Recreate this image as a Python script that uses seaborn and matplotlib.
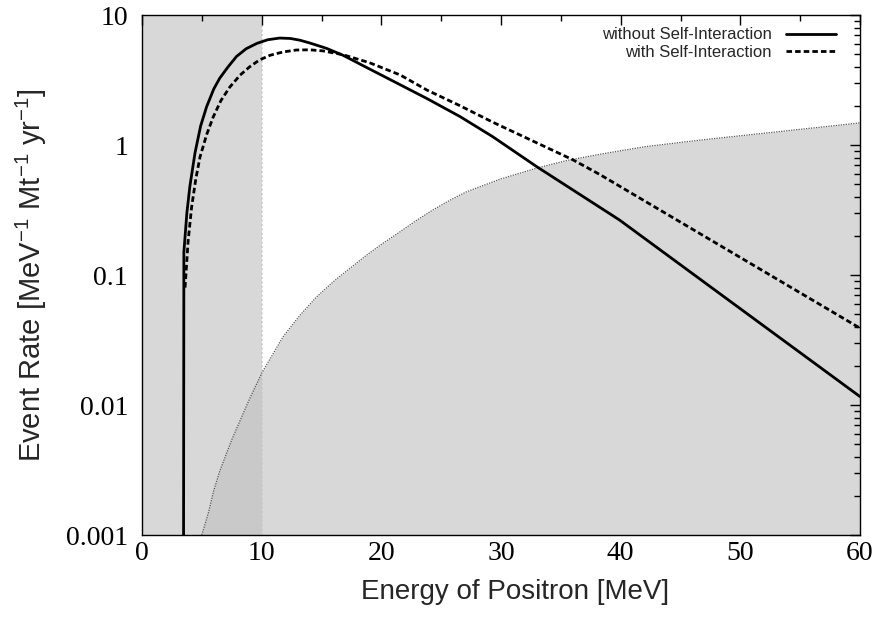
import numpy as np
import pandas as pd
import matplotlib
matplotlib.use("Agg")
import matplotlib.pyplot as plt
import seaborn as sns

# values
energy_without = [3.45, 3.5, 3.75, 4.0, 4.43, 4.9, 5.4, 6.0, 6.5, 7.2, 7.9, 8.7, 9.6,
                  10.5, 11.5, 12.4, 13.2, 14.0, 15.4, 16.8, 19.0, 21.6, 23.8,
                  26.6, 29.3, 33.0, 39.9, 50.0, 60.0]
rate_without = [1e-5, 0.15, 0.3, 0.48, 0.87, 1.4, 1.97, 2.7, 3.27, 4.0, 4.8, 5.5, 6.05,
                6.45, 6.65, 6.6, 6.4, 6.1, 5.55, 4.9, 3.85, 2.9, 2.28,
                1.65, 1.16, 0.68, 0.265, 0.055, 0.0116]

energy_with = [3.6, 3.85, 4.15, 4.5, 4.85, 5.4, 5.96, 6.6, 7.35, 8.2, 9.0, 9.8, 10.7,
               11.8, 12.9, 14.0, 15.1, 16.8, 19.0, 21.6, 23.8, 26.6, 29.3,
               36.0, 38.3, 49.4, 60.0]
rate_with = [0.08, 0.18, 0.335, 0.55, 0.81, 1.2, 1.65, 2.2, 2.8, 3.45, 4.0, 4.5, 4.9,
             5.2, 5.38, 5.4, 5.3, 4.95, 4.3, 3.45, 2.65, 2.0, 1.5,
             0.77, 0.59, 0.147, 0.039]

energy_bg = [5.0, 5.54, 6.0, 6.5, 7.5, 8.2, 9.0, 10.0, 10.4, 11.8, 13.2, 14.6, 16.0,
             17.4, 18.8, 20.2, 21.6, 22.9, 24.3, 25.7, 27.1, 29.9, 33.0, 35.5,
             38.3, 42.0, 46.6, 53.3, 60.0]
rate_bg = [0.001, 0.00147, 0.0022, 0.0031, 0.0054, 0.0076, 0.0112, 0.0175, 0.0203,
           0.0336, 0.049, 0.068, 0.089, 0.113, 0.143, 0.177, 0.216, 0.262, 0.316,
           0.375, 0.436, 0.545, 0.665, 0.76, 0.85, 0.97, 1.09, 1.27, 1.48]

band_edge = 10.0
ytick_vals = [0.001, 0.01, 0.1, 1, 10]
ytick_labels = ["0.001", "0.01", "0.1", "1", "10"]
xtick_vals = [0, 10, 20, 30, 40, 50, 60]

df = pd.concat([
    pd.DataFrame({"E": energy_without, "rate": rate_without, "case": "without Self-Interaction"}),
    pd.DataFrame({"E": energy_with, "rate": rate_with, "case": "with Self-Interaction"}),
])

sns.set_style("white")
plt.rcParams["font.family"] = ["Liberation Serif", "DejaVu Serif"]
plt.rcParams["mathtext.fontset"] = "custom"
plt.rcParams["mathtext.rm"] = "Liberation Sans"

fig = plt.figure(figsize=(8.83, 6.18), dpi=100)
ax = fig.add_axes([0.1608, 0.1343, 0.8132, 0.8414])

# shaded regions
shade = "#bfbfbf"
ax.axvspan(0, band_edge, color=shade, alpha=0.6, lw=0, zorder=0)
ax.axvline(band_edge, color="#c8c8c8", ls=":", lw=1.2, zorder=0.5)
ax.fill_between(energy_bg, 0.001, rate_bg, color=shade, alpha=0.6, lw=0, zorder=0)
ax.plot(energy_bg, rate_bg, color="#555555", ls=(0, (1, 1)), lw=0.9, zorder=1)

sns.lineplot(data=df, x="E", y="rate", style="case", ax=ax, color="black",
             lw=2.0, dashes={"without Self-Interaction": "",
                             "with Self-Interaction": (2.0, 1.1)},
             sort=False, estimator=None, zorder=3)

ax.set_yscale("log")
ax.set_xlim(0, 60)
ax.set_ylim(0.001, 10)
ax.set_xticks(xtick_vals)
ax.set_xticks(np.arange(5, 60, 10), minor=True)
ax.set_yticks(ytick_vals)
ax.set_yticklabels(ytick_labels)
ax.tick_params(which="both", direction="in", top=True, right=True, width=1, colors="black")
ax.tick_params(which="major", length=7, labelsize=20)
ax.tick_params(which="minor", length=4)
ax.tick_params(axis="y", pad=10)
ax.tick_params(axis="x", pad=4)
for s in ax.spines.values():
    s.set_color("black")
    s.set_linewidth(1.0)

ax.set_xlabel("Energy of Positron [MeV]", family="Liberation Sans", fontsize=20,
              labelpad=10, x=0.52)
ax.set_ylabel(r"Event Rate [MeV$^{\mathregular{-1}}$ Mt$^{\mathregular{-1}}$ yr$^{\mathregular{-1}}$]",
              family="Liberation Sans", fontsize=21, labelpad=12)

leg = ax.legend(loc="upper right", bbox_to_anchor=(0.988, 1.005), frameon=False,
                markerfirst=False, handlelength=3.0, handletextpad=0.9,
                labelspacing=0.15, prop={"family": "Liberation Sans", "size": 12})
for line in leg.get_lines():
    line.set_linewidth(2.0)

fig.savefig("out.png", dpi=100)
